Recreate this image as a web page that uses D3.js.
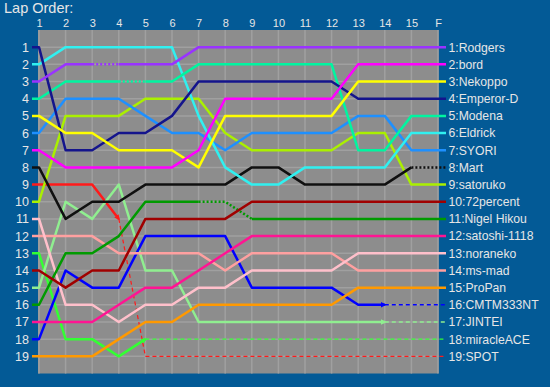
<!DOCTYPE html>
<html><head><meta charset="utf-8">
<script src="https://cdn.jsdelivr.net/npm/d3@7/dist/d3.min.js"></script>
<style>
html,body{margin:0;padding:0;background:#035a96;}
svg{display:block;}
</style></head>
<body>
<svg id="chart" width="550" height="387"></svg>
<script>
const laps = ["1","2","3","4","5","6","7","8","9","10","11","12","13","14","15","F"];
const drivers = ["Rodgers","bord","Nekoppo","Emperor-D","Modena","Eldrick","SYORI","Mart","satoruko","72percent","Nigel Hikou","satoshi-1118","noraneko","ms-mad","ProPan","CMTM333NT","JINTEI","miracleACE","SPOT"];
const ranks = [
  [3,2,2,2,2,2,1,1,1,1,1,1,1,1,1,1],
  [7,8,8,8,8,8,7,4,4,4,4,4,2,2,2,2],
  [5,6,6,7,7,7,8,5,5,5,5,5,3,3,3,3],
  [1,7,7,6,6,5,3,3,3,3,3,3,4,4,4,4],
  [4,3,3,3,3,3,2,2,2,2,2,2,7,7,5,5],
  [2,1,1,1,1,1,5,8,9,9,8,8,8,8,6,6],
  [6,4,4,4,5,6,6,7,6,6,6,6,5,5,7,7],
  [8,11,10,10,9,9,9,9,8,8,9,9,9,9,8,8],
  [10,5,5,5,4,4,4,6,7,7,7,7,6,6,9,9],
  [14,15,14,14,11,11,11,11,10,10,10,10,10,10,10,10],
  [16,13,13,12,10,10,10,10,11,11,11,11,11,11,11,11],
  [17,17,17,16,15,15,14,13,12,12,12,12,12,12,12,12],
  [11,16,16,17,16,16,15,15,14,14,14,14,13,13,13,13],
  [12,12,12,13,13,13,13,14,13,13,13,13,14,14,14,14],
  [19,19,19,18,17,17,16,16,16,16,16,16,15,15,15,15],
  [18,14,15,15,12,12,12,12,15,15,15,15,16,16,16,16],
  [15,10,11,9,14,14,17,17,17,17,17,17,17,17,17,17],
  [13,18,18,19,18,18,18,18,18,18,18,18,18,18,18,18],
  [9,9,9,11,19,19,19,19,19,19,19,19,19,19,19,19]
];
const rankTicks = d3.range(1, 20);
// segment styles: [driver index, segment start lap index]
const dottedSegments = [[0,2],[4,3],[10,6],[10,7],[7,14]];
// [driver index, first segment index that is dashed, kind]
const dashedFrom = [[15,13,"lapped"],[16,13,"lapped"],[17,4,"retired"],[18,3,"retired"]];
const colors = ["#9933ff","#ff00ff","#ffff00","#14148c","#00f5a0","#30f0f0","#1e90ff","#101010","#aaf000","#a00000","#009a00","#ff1493","#ffc0cb","#ffa0a0","#ff9900","#0000ff","#90ee90","#33ff33","#ff1a1a"];

const svg = d3.select("#chart");
const x = d3.scalePoint().domain(laps).range([39, 438]);
const y = d3.scaleLinear().domain([0, 20]).range([30, 373.5]);

svg.append("text").attr("x", 4).attr("y", 13)
  .attr("font-family", "Liberation Sans, Arial, sans-serif").attr("font-size", 14.5)
  .attr("fill", "#e6e6e6").text("Lap Order:");

svg.append("rect").attr("x", 38).attr("y", y(0)).attr("width", 400.5).attr("height", y(20) - y(0))
  .attr("fill", "#8d8d8d");

const grid = svg.append("g");
grid.selectAll("line.v").data(laps).join("line").attr("class","v")
  .attr("x1", d => x(d)).attr("x2", d => x(d)).attr("y1", y(0)).attr("y2", y(20))
  .attr("stroke", "#a0a0a0").attr("stroke-width", 1.5);
grid.selectAll("line.h").data(rankTicks).join("line").attr("class","h")
  .attr("x1", 38).attr("x2", 438.5).attr("y1", d => y(d)).attr("y2", d => y(d))
  .attr("stroke", "#a0a0a0").attr("stroke-width", 1.5);

// top lap labels
const topAxis = d3.axisTop(x).tickSize(0).tickPadding(0);
const ta = svg.append("g").attr("transform", "translate(0,27)").call(topAxis);
ta.select(".domain").remove();
ta.selectAll("text").attr("font-family", "Liberation Sans, Arial, sans-serif").attr("font-size", 11)
  .attr("fill", "#e6e6e6").attr("dy", 0);

// left rank labels
const leftAxis = d3.axisLeft(y).tickValues(rankTicks).tickSize(0).tickPadding(0).tickFormat(d3.format("d"));
const la = svg.append("g").attr("transform", "translate(29,0)").call(leftAxis);
la.select(".domain").remove();
la.selectAll("text").attr("font-family", "Liberation Sans, Arial, sans-serif").attr("font-size", 12.5)
  .attr("fill", "#e6e6e6");

// markers
const defs = svg.append("defs");
colors.forEach((c, i) => {
  defs.append("marker").attr("id", "arr" + i).attr("viewBox", "0 0 10 10")
    .attr("refX", 7).attr("refY", 5).attr("markerWidth", 2.2).attr("markerHeight", 2.2)
    .attr("orient", "auto").attr("markerUnits", "strokeWidth")
    .append("path").attr("d", "M0,0L10,5L0,10z").attr("fill", c);
});

function segStyle(di, si) {
  const df = dashedFrom.find(d => d[0] === di);
  if (df && si >= df[1]) return df[2];
  if (dottedSegments.some(d => d[0] === di && d[1] === si)) return "dotted";
  return "solid";
}

const styleAttrs = {
  solid: {w: 2.5, dash: null},
  dotted: {w: 2.5, dash: "2,2"},
  lapped: {w: 1.6, dash: "4,3"},
  retired: {w: 1.2, dash: "4,3"}
};

const lineGen = d3.line().x(d => d[0]).y(d => d[1]);
const linesG = svg.append("g");
const labelsG = svg.append("g");

for (let di = drivers.length - 1; di >= 0; di--) {
  const r = ranks[di];
  const c = colors[di];
  const pts = [[32, y(r[0])]].concat(laps.map((l, i) => [x(l), y(r[i])])).concat([[446, y(r[r.length - 1])]]);
  const segStyles = [];
  for (let s = 0; s < pts.length - 1; s++) {
    if (s === 0) segStyles.push("solid");
    else if (s === pts.length - 2) segStyles.push(segStyle(di, laps.length - 2));
    else segStyles.push(segStyle(di, s - 1));
  }
  let start = 0;
  for (let s = 1; s <= segStyles.length; s++) {
    if (s === segStyles.length || segStyles[s] !== segStyles[start]) {
      const st = styleAttrs[segStyles[start]];
      const p = linesG.append("path").attr("d", lineGen(pts.slice(start, s + 1)))
        .attr("fill", "none").attr("stroke", c).attr("stroke-width", st.w)
        .attr("stroke-linejoin", "round");
      if (st.dash) p.attr("stroke-dasharray", st.dash);
      if (segStyles[start] === "solid" && s < segStyles.length && (segStyles[s] === "lapped" || segStyles[s] === "retired")) {
        p.attr("marker-end", "url(#arr" + di + ")");
      }
      start = s;
    }
  }
  labelsG.append("text").attr("x", 448.5).attr("y", y(r[r.length - 1])).attr("dy", "0.36em")
    .attr("font-family", "Liberation Sans, Arial, sans-serif").attr("font-size", 12.2)
    .attr("fill", "#e6e6e6").text((r[r.length - 1]) + ":" + drivers[di]);
}
</script>
</body></html>
